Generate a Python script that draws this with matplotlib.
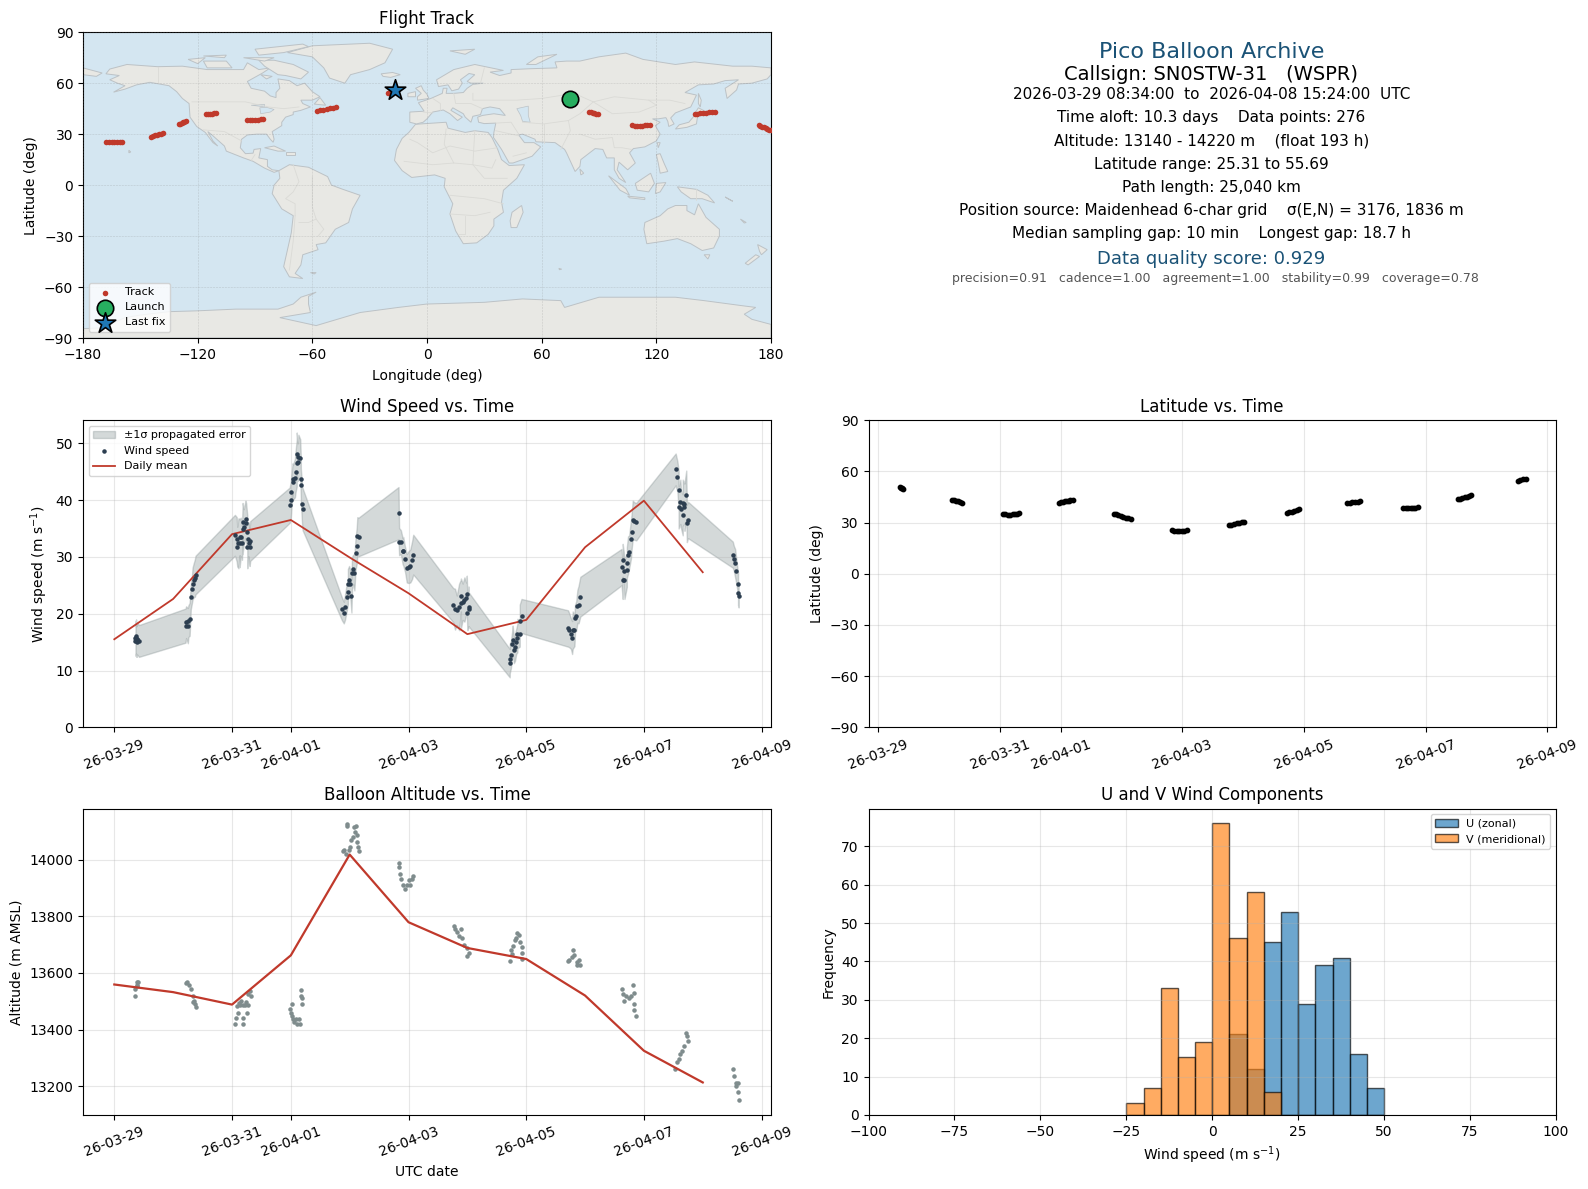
#!/usr/bin/env python3
# -*- coding: utf-8 -*-
'''Pico balloon flight summary: track map, wind, latitude, altitude and U/V histogram.'''

import matplotlib
matplotlib.use('Agg')
import matplotlib.pyplot as plt
import matplotlib.dates as mdates
from matplotlib.patches import Polygon
import numpy as np

# Times are days since 2026-03-29 00:00 UTC
START_DATE = mdates.datestr2num('2026-03-29')

# Daily means
mean_days = [0, 1, 2, 3, 4, 5, 6, 7, 8, 9, 10]
mean_wind = [15.5, 22.6, 34.0, 36.5, 29.9, 23.6, 16.4, 18.9, 31.7, 39.9, 27.3]
mean_alt = [13559, 13532, 13488, 13662, 14018, 13779, 13688, 13649, 13520, 13325, 13213]

# Wind speed samples and propagated 1 sigma error
wind_t = [0.36, 0.36, 0.37, 0.37, 0.38, 0.38, 0.39, 0.42,
          1.21, 1.22, 1.25, 1.26, 1.28, 1.30, 1.32, 1.33, 1.35, 1.37, 1.38,
          2.05, 2.08, 2.09, 2.11, 2.13, 2.13, 2.15, 2.17, 2.18, 2.18, 2.20, 2.23, 2.24, 2.26, 2.26, 2.28, 2.29, 2.30, 2.31,
          2.98, 3.00, 3.01, 3.03, 3.04, 3.07, 3.08, 3.10, 3.10, 3.12, 3.13, 3.16, 3.17, 3.17, 3.19, 3.20,
          3.87, 3.90, 3.92, 3.95, 3.97, 3.97, 3.99, 4.01, 4.03, 4.04, 4.06, 4.08, 4.10, 4.12, 4.13, 4.15,
          4.83, 4.84, 4.87, 4.90, 4.91, 4.94, 4.97, 5.00, 5.03, 5.06, 5.08,
          5.76, 5.79, 5.82, 5.86, 5.89, 5.89, 5.92, 5.95, 5.98, 5.99, 6.00, 6.02, 6.02,
          6.72, 6.72, 6.74, 6.76, 6.77, 6.79, 6.81, 6.83, 6.85, 6.85, 6.89, 6.89, 6.92,
          7.71, 7.73, 7.76, 7.78, 7.79, 7.82, 7.83, 7.85, 7.87, 7.89, 7.92,
          8.62, 8.64, 8.64, 8.66, 8.67, 8.71, 8.71, 8.73, 8.75, 8.78, 8.79, 8.81, 8.84, 8.87,
          9.54, 9.57, 9.59, 9.59, 9.62, 9.63, 9.66, 9.66, 9.69, 9.69, 9.72, 9.73, 9.75,
          10.51, 10.53, 10.55, 10.57, 10.60, 10.60, 10.61]
wind_v = [15.8, 15.2, 16.0, 15.3, 15.5, 15.1, 15.6, 15.2,
          17.9, 18.5, 17.9, 18.7, 19.0, 23.0, 24.3, 25.3, 25.9, 26.3, 26.8,
          33.8, 33.1, 31.8, 32.4, 33.5, 32.4, 33.5, 32.5, 36.2, 35.0, 35.3, 36.6, 36.0, 34.4, 31.8, 33.1, 32.4, 31.7, 32.8,
          39.1, 40.1, 41.5, 43.8, 43.2, 43.9, 45.0, 46.5, 48.2, 46.7, 47.6, 47.4, 43.8, 42.6, 39.4, 38.4,
          20.8, 20.2, 21.1, 22.9, 23.8, 25.2, 25.9, 25.3, 23.1, 27.2, 27.8, 27.2, 30.6, 32.0, 33.7, 33.5,
          37.7, 32.7, 32.6, 31.0, 31.0, 29.6, 28.0, 28.2, 28.4, 29.4, 30.4,
          21.5, 20.8, 20.6, 21.2, 23.2, 21.8, 22.1, 22.5, 22.7, 23.4, 20.1, 21.2, 20.8,
          11.3, 12.1, 12.8, 14.6, 15.4, 13.6, 14.1, 15.1, 15.7, 16.5, 16.5, 18.8, 19.6,
          17.4, 17.1, 16.5, 15.8, 17.1, 17.1, 19.2, 19.6, 21.3, 21.6, 23.0,
          28.2, 25.9, 29.4, 27.6, 26.0, 27.7, 29.0, 30.3, 30.9, 33.1, 34.3, 36.5, 36.3, 36.2,
          45.4, 44.1, 41.8, 38.7, 39.7, 38.4, 37.4, 39.5, 39.4, 38.8, 40.9, 35.9, 36.5,
          30.4, 29.7, 28.9, 27.5, 25.3, 23.7, 23.1]
wind_sigma = [2.9, 2.6, 3.0, 2.8, 2.9, 2.7, 2.8, 2.8,
              3.0, 2.8, 3.1, 2.8, 2.9, 2.2, 2.4, 2.8, 3.0, 3.3, 3.4,
              3.6, 3.9, 3.5, 4.4, 3.2, 4.2, 3.4, 3.0, 2.8, 4.5, 3.1, 3.3, 3.5, 2.9, 3.8, 3.0, 3.6, 3.3, 3.5,
              3.1, 3.2, 3.0, 2.7, 3.1, 3.4, 3.6, 4.1, 3.7, 3.3, 3.9, 3.3, 3.5, 3.0, 3.4, 3.7,
              2.0, 1.9, 2.2, 2.4, 2.1, 2.7, 2.5, 2.4, 2.9, 2.8, 2.6, 3.1, 2.8, 3.2, 3.3, 3.4,
              4.6, 2.4, 2.1, 2.3, 2.5, 2.2, 2.5, 2.8, 2.9, 3.3, 3.5,
              3.0, 3.6, 2.6, 4.1, 2.8, 4.4, 3.2, 3.9, 2.8, 3.3, 3.0, 3.6, 3.0,
              2.5, 2.6, 2.4, 2.2, 2.5, 2.3, 2.4, 2.2, 2.5, 2.6, 2.3, 2.8, 3.0,
              3.2, 3.0, 2.7, 2.9, 3.3, 2.8, 2.4, 2.6, 2.9, 3.3, 3.5,
              3.2, 3.3, 2.9, 3.1, 3.4, 3.0, 2.7, 3.3, 2.9, 3.4, 3.1, 3.4, 3.3, 3.3,
              2.8, 2.7, 3.4, 3.7, 3.9, 3.3, 3.6, 4.1, 3.5, 4.2, 4.3, 3.3, 3.2,
              2.3, 2.2, 2.5, 2.2, 1.9, 2.2, 2.0]

# Altitude samples
alt_t = [0.35, 0.35, 0.38, 0.38, 0.39, 0.40,
         1.22, 1.24, 1.27, 1.30, 1.33, 1.34, 1.35, 1.37, 1.38,
         2.05, 2.07, 2.09, 2.10, 2.12, 2.14, 2.15, 2.18, 2.19, 2.19, 2.22, 2.24, 2.25, 2.27, 2.28, 2.30, 2.32,
         2.98, 3.00, 3.02, 3.02, 3.04, 3.06, 3.08, 3.11, 3.14, 3.16, 3.17, 3.17, 3.19, 3.19,
         3.88, 3.91, 3.93, 3.96, 3.96, 3.98, 4.00, 4.03, 4.05, 4.08, 4.09, 4.10, 4.12, 4.12, 4.14, 4.15,
         4.83, 4.83, 4.85, 4.88, 4.91, 4.94, 4.97, 5.00, 5.03, 5.06, 5.08,
         5.77, 5.79, 5.82, 5.86, 5.89, 5.91, 5.95, 5.99, 6.00, 6.02,
         6.73, 6.74, 6.76, 6.78, 6.81, 6.83, 6.85, 6.88, 6.90, 6.92, 6.93, 6.93,
         7.71, 7.73, 7.77, 7.79, 7.81, 7.86, 7.87, 7.90, 7.92,
         8.63, 8.64, 8.67, 8.70, 8.74, 8.78, 8.81, 8.83, 8.84, 8.84, 8.87,
         9.53, 9.57, 9.59, 9.62, 9.65, 9.68, 9.72, 9.73, 9.75,
         10.51, 10.53, 10.56, 10.57, 10.60, 10.60, 10.61]
alt_v = [13542, 13519, 13568, 13556, 13553, 13568,
         13565, 13568, 13557, 13542, 13518, 13498, 13501, 13489, 13481,
         13421, 13442, 13483, 13460, 13495, 13487, 13501, 13487, 13421, 13440, 13487, 13498, 13460, 13487, 13524, 13536, 13520,
         13471, 13460, 13489, 13448, 13436, 13425, 13436, 13421, 13437, 13421, 13540, 13518, 13510, 13491,
         14029, 14033, 14021, 14126, 14118, 14033, 14044, 14068, 14080, 14115, 14099, 14118, 14088, 14062, 14044, 14029,
         13988, 13974, 13951, 13930, 13912, 13898, 13912, 13927, 13910, 13933, 13942,
         13767, 13756, 13744, 13729, 13756, 13723, 13699, 13658, 13688, 13670,
         13641, 13682, 13667, 13694, 13717, 13725, 13740, 13735, 13709, 13690, 13670, 13650,
         13643, 13647, 13655, 13681, 13664, 13637, 13629, 13647, 13629,
         13542, 13524, 13501, 13518, 13512, 13518, 13557, 13491, 13530, 13470, 13449,
         13261, 13284, 13296, 13313, 13325, 13340, 13387, 13378, 13360,
         13260, 13237, 13210, 13199, 13210, 13179, 13150]

# Positions
track_t = [0.357, 0.37, 0.39, 0.41,
           1.21, 1.24, 1.28, 1.31, 1.35, 1.38,
           2.05, 2.09, 2.13, 2.17, 2.21, 2.25, 2.28, 2.32,
           2.98, 3.01, 3.04, 3.07, 3.10, 3.13, 3.16, 3.20,
           3.87, 3.91, 3.95, 3.99, 4.03, 4.07, 4.11, 4.15,
           4.83, 4.87, 4.91, 4.95, 4.99, 5.03, 5.08,
           5.76, 5.80, 5.85, 5.89, 5.93, 5.98, 6.02,
           6.72, 6.76, 6.80, 6.84, 6.88, 6.92,
           7.71, 7.75, 7.79, 7.83, 7.88, 7.92,
           8.63, 8.67, 8.71, 8.75, 8.79, 8.83, 8.87,
           9.53, 9.57, 9.60, 9.64, 9.67, 9.71, 9.75,
           10.51, 10.55, 10.60, 10.642]
track_lat = [50.6, 50.3, 50.1, 49.9,
             43.2, 43.0, 42.7, 42.4, 42.1, 41.8,
             35.3, 35.0, 34.7, 34.6, 34.8, 35.1, 35.3, 35.4,
             41.6, 41.9, 42.2, 42.5, 42.7, 42.9, 43.0, 43.0,
             35.3, 34.9, 34.4, 34.0, 33.5, 33.0, 32.6, 32.2,
             25.4, 25.3, 25.3, 25.31, 25.3, 25.3, 25.4,
             28.6, 28.9, 29.2, 29.6, 29.9, 30.2, 30.6,
             35.7, 36.1, 36.5, 36.9, 37.4, 37.9,
             41.6, 41.8, 41.9, 42.1, 42.2, 42.4,
             38.3, 38.3, 38.4, 38.4, 38.5, 38.7, 38.9,
             43.6, 44.0, 44.4, 44.8, 45.2, 45.6, 46.0,
             54.5, 54.9, 55.3, 55.69]
track_lon = [74.9, 75.6, 76.2, 76.8,
             84.7, 85.6, 86.6, 87.5, 88.5, 89.5,
             107.5, 108.8, 110.0, 111.3, 112.5, 114.0, 115.2, 116.5,
             140.0, 141.5, 143.0, 144.5, 146.0, 147.5, 149.0, 150.7,
             173.6, 174.5, 175.4, 176.3, 177.2, 178.1, 179.0, 179.9,
             -167.8, -166.4, -165.0, -163.6, -162.2, -160.8, -159.4,
             -144.6, -143.5, -142.4, -141.3, -140.2, -139.1, -138.0,
             -129.8, -129.1, -128.4, -127.7, -127.0, -126.3,
             -115.9, -114.8, -113.7, -112.6, -111.4, -110.3,
             -94.3, -92.8, -91.4, -90.0, -88.5, -87.0, -85.6,
             -57.5, -55.8, -54.2, -52.5, -50.9, -49.2, -47.6,
             -20.5, -19.5, -18.4, -17.0]

# Histogram of wind components
hist_edges = [-25, -20, -15, -10, -5, 0, 5, 10, 15, 20, 25, 30, 35, 40, 45, 50]
u_counts = [0, 0, 0, 0, 0, 0, 21, 12, 45, 53, 29, 39, 41, 16, 7]
v_counts = [3, 7, 33, 15, 19, 76, 46, 58, 6, 0, 0, 0, 0, 0, 0]

# Summary text
summary_lines = [
    ('Pico Balloon Archive', 51.7, 16, '#1a5276'),
    ('Callsign: SN0STW-31   (WSPR)', 74, 14, 'black'),
    ('2026-03-29 08:34:00  to  2026-04-08 15:24:00  UTC', 94.4, 11, 'black'),
    ('Time aloft: 10.3 days    Data points: 276', 117.7, 11, 'black'),
    ('Altitude: 13140 - 14220 m    (float 193 h)', 141, 11, 'black'),
    ('Latitude range: 25.31 to 55.69', 164.4, 11, 'black'),
    ('Path length: 25,040 km', 187.7, 11, 'black'),
    ('Position source: Maidenhead 6-char grid    σ(E,N) = 3176, 1836 m', 211, 11, 'black'),
    ('Median sampling gap: 10 min    Longest gap: 18.7 h', 233.4, 11, 'black'),
    ('Data quality score: 0.929', 258.7, 13, '#1a5276'),
    ('  precision=0.91   cadence=1.00   agreement=1.00   stability=0.99   coverage=0.78', 279, 9, '#555555'),
]

# Coarse world outlines, (lon, lat)
land_north_america = [(-168, 65.5), (-166, 68.3), (-157, 71), (-141, 69.7), (-128, 70), (-115, 68), (-108, 68), (-96, 68),
                      (-94, 72), (-88, 68), (-82, 69), (-86, 66), (-94, 61), (-92, 57), (-85, 55.3), (-82, 52.5),
                      (-79, 51.5), (-79, 54.5), (-77, 57), (-78, 62.5), (-72, 61.5), (-68, 58.5), (-64, 60), (-60, 55),
                      (-56, 52), (-60, 50), (-66, 50), (-65, 48), (-61, 46), (-66, 44), (-70, 43), (-70, 41.5),
                      (-74, 40), (-76, 37), (-76, 35), (-81, 31.5), (-80, 27), (-80.5, 25.2), (-82, 27), (-84, 30),
                      (-89, 30), (-94, 29.5), (-97, 27), (-97.7, 22), (-95, 18.5), (-91, 18.8), (-90.5, 21), (-87, 21.5),
                      (-88, 16), (-83.5, 15), (-83.5, 11), (-81, 9), (-77.5, 8.5), (-80, 7.5), (-85, 10), (-91, 14),
                      (-96, 16), (-105, 20), (-106, 23), (-112.5, 29.5), (-114.7, 31.5), (-112, 26), (-109.5, 23),
                      (-112, 25), (-116, 31), (-120.5, 34.5), (-124, 40), (-124.5, 48), (-128, 51), (-131, 55),
                      (-135, 58.5), (-145, 60.5), (-152, 59), (-158, 56.5), (-164, 54.7), (-158, 58.5), (-162, 60),
                      (-166, 62), (-161, 64.5)]
land_south_america = [(-77.5, 8.5), (-72, 12), (-62, 10.5), (-52, 5), (-50, 0), (-44, -2.5), (-35, -6), (-39, -14),
                      (-41, -22), (-48, -26), (-53, -34), (-58, -35), (-57, -38), (-65, -41), (-66, -47), (-69, -52),
                      (-65, -55), (-72, -54), (-75, -48), (-73, -38), (-71, -28), (-70, -18), (-76, -14), (-81, -5),
                      (-80, 0), (-77, 4)]
land_africa = [(-6, 35.8), (10, 37), (11, 33.5), (20, 31), (25, 32), (32, 31), (34, 28), (37, 21), (39, 15), (43, 11.5),
               (51, 12), (47, 4), (40, -3), (39, -10), (40, -16), (35, -20), (35, -24), (32, -29), (26, -34), (19, -34.5),
               (15, -27), (12, -17), (13.5, -11), (9, -1), (9.5, 4), (4, 6), (-4, 5), (-8, 4.5), (-13, 8.5), (-17, 14.5),
               (-16, 21), (-13, 27.5), (-9.5, 31)]
land_eurasia = [(-9, 37), (-9, 43), (-1.5, 43.5), (-4.5, 48.5), (2, 51), (8, 54), (8.5, 57), (10.5, 57), (10, 54), (14, 54),
                (19, 54.5), (21, 57), (24, 59.3), (29.5, 60), (23, 60), (21, 61), (25, 65), (22, 65.7), (17.5, 62),
                (18.5, 60), (16.5, 56.5), (13, 55.5), (11, 59), (6, 58), (5, 62), (14, 68), (25, 71), (40, 67.5),
                (33, 66.5), (38, 64.5), (44, 66), (44, 68), (54, 68.5), (68, 69), (67, 72.5), (73, 73), (80, 73), (90, 75.5),
                (104, 77.7), (113, 74), (130, 71), (140, 72.5), (160, 70), (170, 70), (180, 69), (180, 65), (178, 62.5),
                (170, 60), (163, 59.5), (162, 56), (157, 51), (156, 57), (163, 62), (156, 61.5), (150, 59.5), (142, 59),
                (135, 54.5), (141, 53), (138, 46), (130, 42.5), (127.5, 39.5), (129.3, 36), (126.5, 34.5), (126, 37.5),
                (125, 39.7), (121, 39), (118, 39), (122, 37), (119.5, 35), (122, 30), (120, 26), (114, 22.5), (108, 21.5),
                (106, 19), (109, 13), (105, 9), (100.5, 13.5), (99.5, 9), (104, 1.5), (100.5, 4), (98, 9), (98, 16), (94, 16),
                (92, 21), (88, 21.5), (80.5, 15), (80, 11), (77.5, 8), (73, 19), (72, 21), (67, 25), (57, 25.5), (56.5, 27),
                (50, 30), (48, 29.5), (51, 25), (56, 25), (59.5, 22.5), (55, 17), (45, 13), (43, 13), (39, 21), (34.8, 28),
                (35, 31), (36, 36.5), (30, 36.2), (27, 37), (26.5, 40), (29, 41), (35, 42), (41, 41), (38, 45), (33, 46),
                (29, 45), (28, 41.5), (24, 40.5), (23, 37), (20, 40), (19, 42), (13.5, 45.5), (12.5, 44), (18.5, 40), (16, 38),
                (12, 42), (8.5, 44.2), (3, 43), (0, 39), (-2, 37), (-5.5, 36)]
land_australia = [(114, -22), (122, -18), (126, -14), (130, -12), (136, -12), (136, -15), (140, -17.5), (142, -11), (146, -19),
                  (153, -26), (153, -30), (150, -37), (144, -38.5), (138, -34.5), (131, -31.5), (124, -33), (115, -34.5),
                  (113.5, -26)]
land_antarctica = [(-180, -84.5), (-170, -84), (-158, -78), (-150, -76.5), (-135, -74.5), (-120, -74), (-100, -73), (-90, -73),
                   (-78, -73), (-70, -70), (-66, -66), (-58, -63), (-62, -65.5), (-62, -70), (-61, -75), (-77, -78),
                   (-58, -82.7), (-35, -75), (-15, -72), (0, -70), (30, -69), (50, -67), (70, -68), (72, -72), (90, -66),
                   (110, -66), (130, -66), (145, -68), (165, -71), (172, -72), (166, -76), (170, -79), (180, -82), (180, -90),
                   (-180, -90)]
land_islands = [
    [(-180, 69), (-170, 66), (-173, 64), (-180, 65)],  # Chukotka
    [(-73, 78), (-60, 82), (-30, 83.5), (-18, 80), (-22, 72), (-30, 68), (-40, 65), (-43, 60), (-51, 63), (-54, 69), (-60, 75.5)],
    [(-80, 73.5), (-70, 71), (-62, 66.5), (-66, 62.5), (-74, 64.5), (-78, 65), (-85, 70), (-88, 73.5)],
    [(-117, 73), (-105, 73), (-102, 69), (-115, 69)],
    [(-125, 74), (-116, 75), (-120, 71.5)],
    [(-90, 80), (-65, 83), (-62, 81.5), (-75, 78), (-88, 76.5)],
    [(-96, 75), (-80, 75), (-85, 73)],
    [(-117, 76), (-105, 76.5), (-106, 75)],
    [(-87, 65), (-81, 64), (-84, 62.5)],
    [(-59, 47.7), (-53, 47), (-56, 51.5)],
    [(-85, 22), (-80, 23), (-74, 20), (-78, 20)],
    [(-74, 19.5), (-69, 19.5), (-69, 18), (-74, 18)],
    [(-156, 20.5), (-155, 19.5), (-156, 19)],
    [(-24, 65.5), (-18, 66.3), (-14, 65), (-19, 63.4), (-23, 64)],
    [(49.5, -12), (50.3, -16), (47, -25), (44, -25), (43.5, -21), (44.5, -16)],
    [(-5, 50), (1, 51), (0, 53.5), (-2, 56), (-3, 58.5), (-6, 57), (-3, 54), (-5, 52)],
    [(-10, 52), (-6, 52), (-6, 55), (-10, 54)],
    [(12, 79), (25, 80), (20, 77)],
    [(52, 71), (57, 71), (68, 77), (58, 75.5)],
    [(142, 54), (143.5, 50), (143, 46), (142, 48)],
    [(130, 33), (136, 34), (141, 36), (141.5, 40), (140, 41), (137, 37), (132, 35.5)],
    [(140, 42), (142, 45.5), (145.5, 43.5), (143, 42)],
    [(120, 18), (122, 18.5), (124, 13), (126, 8), (122, 7), (121, 13)],
    [(109, 1), (117, 7), (119, 1), (116, -4), (110, -3)],
    [(95, 5.5), (104, -2), (106, -6), (101, -3)],
    [(105, -6.5), (114, -7.5), (114, -8.5), (106, -7.5)],
    [(119.5, -5), (120, 1), (125, 1.5), (122, -4)],
    [(131, -1), (141, -2.5), (147, -6), (150.5, -10.5), (144, -8), (138, -8), (133, -4)],
    [(145, -41), (148, -41), (147, -43.5)],
    [(173, -35), (178, -38), (175, -41), (174, -39)],
    [(172, -41), (174, -42), (168, -47), (166.5, -46)],
    [(80, 9.5), (82, 7), (80.5, 6)],
    [(120.5, 25), (122, 25), (121, 22)],
    [(156, -7), (160, -9.5), (159, -9)],
    [(164, -20), (167, -22), (166, -22.3)],
    [(69, -49), (70.5, -49.5), (69.3, -49.8)],
    [(-61, -51.5), (-58, -51.5), (-59, -52.3)],
]
lakes = [
    [(47, 45), (53, 46.5), (53, 41), (54, 37), (50, 37.5), (49, 41)],  # Caspian
    [(-92, 47), (-85, 47.5), (-85, 46), (-88, 46.5)],
    [(-87.5, 45.5), (-84, 45.8), (-80, 44.5), (-82, 43), (-87, 42)],
]

# Some of the country borders
border_lines = [
    [(-141, 69.7), (-141, 60.3)],
    [(-123, 49), (-95, 49), (-83, 46), (-75, 45), (-67, 46)],
    [(-117, 32.5), (-106, 31.5), (-97, 26)],
    [(-92, 14.5), (-90, 18)],
    [(-70, 12), (-67, 2), (-70, -4), (-74, -8), (-69, -11), (-69, -18)],
    [(-60, 5), (-60, -13), (-58, -20), (-54, -26), (-57, -30)],
    [(-69, -18), (-70, -33), (-72, -50)],
    [(-58, -20), (-62, -22), (-67, -22)],
    [(-9, 27), (-5, 25), (3, 19), (12, 23), (25, 20), (37, 22)],
    [(10, 33), (9, 24), (14, 13), (3, 12), (-12, 14)],
    [(25, 32), (24, 12), (34, 10), (36, 15)],
    [(14, 13), (24, 12), (30, 4), (42, 4)],
    [(12, -6), (30, -8), (40, -11)],
    [(12, -17), (25, -18), (33, -16)],
    [(20, -18), (20, -29), (17, -29)],
    [(-2, 43), (3, 42.5)],
    [(3, 51), (7, 48), (7, 44)],
    [(14, 54), (15, 48), (23, 48), (29, 45)],
    [(24, 54), (24, 50), (40, 50), (47, 50), (60, 51), (77, 54), (87, 49), (98, 52), (116, 50), (127, 50), (135, 48)],
    [(28, 60), (30, 69)],
    [(50, 37), (61, 36), (74, 38), (80, 42), (87, 49)],
    [(61, 36), (61, 25)],
    [(74, 38), (75, 32), (70, 21)],
    [(80, 30), (88, 27), (97, 28), (98, 22), (102, 22), (107, 21)],
    [(87, 49), (97, 42), (111, 43), (120, 47), (116, 50)],
    [(36, 36.5), (44, 37), (48, 30)],
    [(36, 32), (48, 29)],
    [(52, 19), (45, 17)],
    [(141, -2.5), (141, -9)],
]

# Pixel layout of the panels
FIG_W, FIG_H = 1588, 1189
LEFT_X = (83, 771)
RIGHT_X = (868.5, 1556)
TEXT_X = 1211.2
ROW_MAP = (32.2, 338)
ROW_MID = (420.3, 727.3)
ROW_LOW = (808.7, 1115)

RED = '#c0392b'
NAVY = '#2c3e50'
GREY = '#7f8c8d'
OCEAN = '#d4e6f1'


def add_panel(fig, xpx, ypx):
    '''Add axes from pixel extents.'''
    return fig.add_axes([xpx[0] / FIG_W, 1 - ypx[1] / FIG_H,
                         (xpx[1] - xpx[0]) / FIG_W, (ypx[1] - ypx[0]) / FIG_H])


def to_dates(days):
    '''Days since launch midnight to matplotlib date numbers.'''
    return START_DATE + np.asarray(days, dtype=float)


def format_time_axis(ax, lo, hi):
    '''Same date ticks on all the time panels.'''
    ax.xaxis_date()
    ax.xaxis.set_major_locator(mdates.DayLocator(bymonthday=range(1, 32, 2)))
    ax.xaxis.set_major_formatter(mdates.DateFormatter('%y-%m-%d'))
    ax.tick_params(axis='x', rotation=20)
    ax.set_xlim(START_DATE + lo, START_DATE + hi)
    ax.grid(True, alpha=0.3)


fig = plt.figure(figsize=(FIG_W / 100, FIG_H / 100), dpi=100)

# Flight track map
ax = add_panel(fig, LEFT_X, ROW_MAP)
ax.set_facecolor(OCEAN)
land_shapes = [land_north_america, land_south_america, land_africa, land_eurasia, land_australia, land_antarctica] + land_islands
for shape in land_shapes:
    ax.add_patch(Polygon(shape, closed=True, facecolor='#e8e8e4', edgecolor='#bcc2c6', linewidth=0.7, zorder=1))
for shape in lakes:
    ax.add_patch(Polygon(shape, closed=True, facecolor=OCEAN, edgecolor='#bcc2c6', linewidth=0.5, zorder=1.1))
for line in border_lines:
    ax.plot([p[0] for p in line], [p[1] for p in line], color='#dadad6', linewidth=0.6, zorder=1.2)
ax.scatter(track_lon, track_lat, s=16, color=RED, linewidths=0, zorder=3, label='Track')
ax.scatter(track_lon[0], track_lat[0], s=140, color='#27ae60', edgecolor='black', linewidth=1.2, zorder=5, label='Launch')
ax.scatter(track_lon[-1], track_lat[-1], s=240, marker='*', color='#1f77b4', edgecolor='black', linewidth=1.2, zorder=5, label='Last fix')
ax.set_xlim(-180, 180)
ax.set_ylim(-90, 90)
ax.set_xticks(np.arange(-180, 181, 60))
ax.set_yticks(np.arange(-90, 91, 30))
ax.grid(True, color='gray', linestyle='--', linewidth=0.4, alpha=0.3)
ax.set_axisbelow(False)
ax.set_xlabel('Longitude (deg)', labelpad=5)
ax.set_ylabel('Latitude (deg)')
ax.set_title('Flight Track')
ax.legend(loc='lower left', fontsize=8, labelspacing=0.45, borderaxespad=0.55)

# Summary text panel
for text, ypx, size, color in summary_lines:
    fig.text(TEXT_X / FIG_W, 1 - ypx / FIG_H, text, ha='center', va='center', fontsize=size, color=color)

# Wind speed
ax = add_panel(fig, LEFT_X, ROW_MID)
wind_low = np.array(wind_v) - np.array(wind_sigma)
wind_high = np.array(wind_v) + np.array(wind_sigma)
ax.fill_between(to_dates(wind_t), wind_low, wind_high, color=GREY, alpha=0.33, label='±1σ propagated error')
ax.scatter(to_dates(wind_t), wind_v, s=5, color=NAVY, zorder=3, label='Wind speed')
ax.plot(to_dates(mean_days), mean_wind, color=RED, linewidth=1.3, label='Daily mean')
format_time_axis(ax, -0.532, 11.16)
ax.set_ylim(0, 54.05)
ax.set_ylabel('Wind speed (m s$^{-1}$)')
ax.set_title('Wind Speed vs. Time')
ax.legend(loc='upper left', fontsize=8)

# Latitude
ax = add_panel(fig, RIGHT_X, ROW_MID)
ax.scatter(to_dates(track_t), track_lat, s=10, color='black', zorder=3)
format_time_axis(ax, -0.157, 11.14)
ax.set_ylim(-90, 90)
ax.set_yticks(np.arange(-90, 91, 30))
ax.set_ylabel('Latitude (deg)')
ax.set_title('Latitude vs. Time')

# Altitude
ax = add_panel(fig, LEFT_X, ROW_LOW)
ax.scatter(to_dates(alt_t), alt_v, s=5, color=GREY, zorder=3)
ax.plot(to_dates(mean_days), mean_alt, color=RED, linewidth=1.6, zorder=4)
format_time_axis(ax, -0.532, 11.16)
ax.set_ylim(13098, 14180)
ax.set_yticks(np.arange(13200, 14001, 200))
ax.set_xlabel('UTC date')
ax.set_ylabel('Altitude (m AMSL)')
ax.set_title('Balloon Altitude vs. Time')

# U and V histogram
ax = add_panel(fig, RIGHT_X, ROW_LOW)
ax.hist(hist_edges[:-1], bins=hist_edges, weights=u_counts, color='#1f77b4', alpha=0.65, edgecolor='black', label='U (zonal)')
ax.hist(hist_edges[:-1], bins=hist_edges, weights=v_counts, color='#ff7f0e', alpha=0.65, edgecolor='black', label='V (meridional)')
ax.set_xlim(-100, 100)
ax.set_ylim(0, 79.8)
ax.grid(True, alpha=0.3)
ax.set_xlabel('Wind speed (m s$^{-1}$)')
ax.set_ylabel('Frequency')
ax.set_title('U and V Wind Components')
ax.legend(loc='upper right', fontsize=8)

fig.savefig('out.png', dpi=100)
plt.close(fig)
